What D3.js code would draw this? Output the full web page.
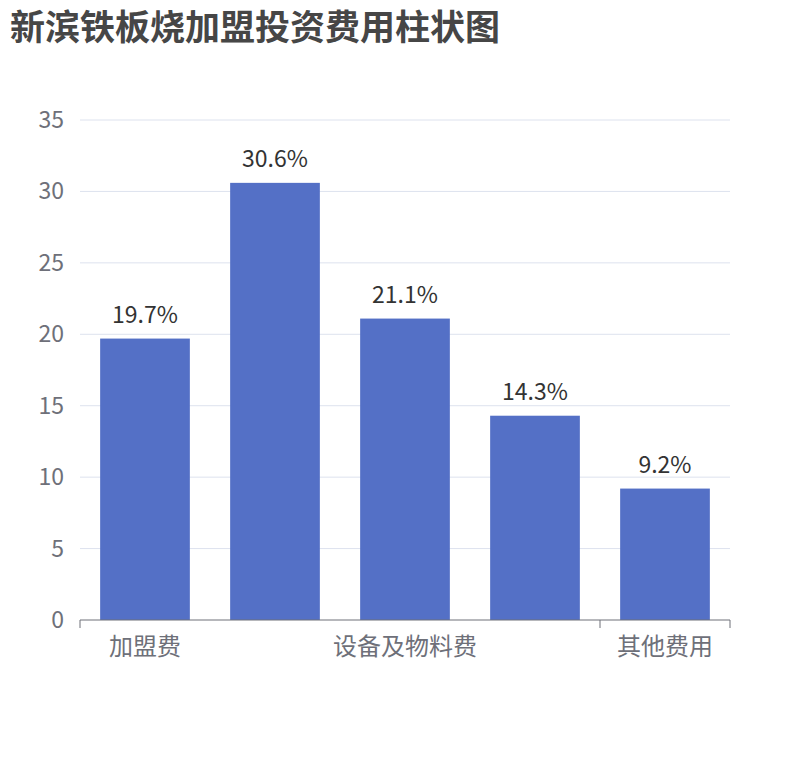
<!DOCTYPE html>
<html><head><meta charset="utf-8">
<script src="https://cdn.jsdelivr.net/npm/d3@7"></script>
<style>body{margin:0;background:#fff;font-family:"Noto Sans CJK SC","Noto Sans",sans-serif;}</style>
</head><body><div id="chart"></div>
<script>
const categories = ["加盟费", "装修费", "设备及物料费", "房租及押金", "其他费用"];
const values = [19.7, 30.6, 21.1, 14.3, 9.2];
const yTicks = [0, 5, 10, 15, 20, 25, 30, 35];
const shownLabels = [0, 2, 4];

const width = 810, height = 760;
const svg = d3.select("#chart").append("svg").attr("width", width).attr("height", height);

svg.append("text").attr("x", 10).attr("y", 40)
    .attr("font-size", 35).attr("font-weight", "bold").attr("fill", "#464646")
    .text("新滨铁板烧加盟投资费用柱状图");

const x = d3.scaleBand().domain(categories).range([80, 730]).paddingInner(0.31).paddingOuter(0.155);
const band = d3.scaleBand().domain(categories).range([80, 730]);
const y = d3.scaleLinear().domain([0, 35]).range([620, 120]);

svg.append("g").selectAll("line").data(yTicks.slice(1)).enter().append("line")
    .attr("x1", 80).attr("x2", 730).attr("y1", d => y(d)).attr("y2", d => y(d))
    .attr("stroke", "#dde2ee");

svg.append("g").selectAll("text").data(yTicks).enter().append("text")
    .attr("x", 64).attr("y", d => y(d)).attr("dy", "0.35em").attr("text-anchor", "end")
    .attr("font-size", 23).attr("fill", "#6e7079").text(d => d);

svg.append("g").selectAll("rect").data(values).enter().append("rect")
    .attr("x", (d, i) => x(categories[i])).attr("width", x.bandwidth())
    .attr("y", d => y(d)).attr("height", d => y(0) - y(d)).attr("fill", "#5470c6");

svg.append("g").selectAll("text").data(values).enter().append("text")
    .attr("x", (d, i) => x(categories[i]) + x.bandwidth() / 2).attr("y", d => y(d) - 16)
    .attr("text-anchor", "middle").attr("font-size", 23).attr("fill", "#333")
    .text(d => d + "%");

svg.append("line").attr("x1", 80).attr("x2", 730).attr("y1", 620).attr("y2", 620).attr("stroke", "#6e7079");
const tickXs = [band(categories[0]), band(categories[4]), 730];
svg.append("g").selectAll("line").data(tickXs).enter().append("line")
    .attr("x1", d => d).attr("x2", d => d).attr("y1", 620).attr("y2", 628).attr("stroke", "#6e7079");

svg.append("g").selectAll("text").data(shownLabels).enter().append("text")
    .attr("x", i => band(categories[i]) + band.bandwidth() / 2).attr("y", 655)
    .attr("text-anchor", "middle").attr("font-size", 24).attr("fill", "#6e7079")
    .text(i => categories[i]);
</script></body></html>
